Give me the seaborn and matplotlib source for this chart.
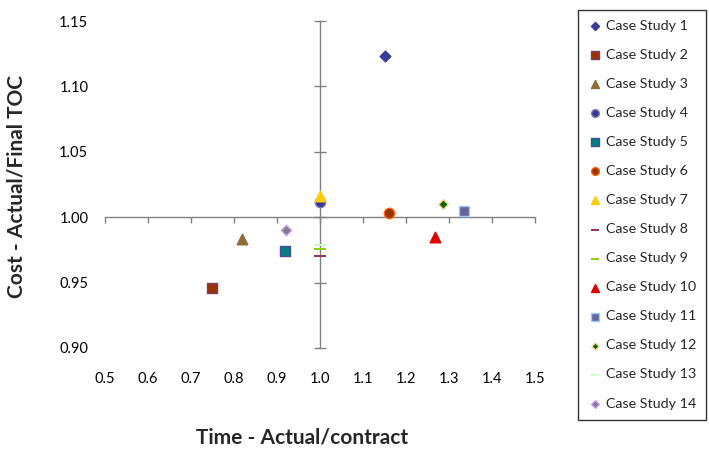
import matplotlib
matplotlib.use("Agg")
import matplotlib.pyplot as plt
import seaborn as sns
import pandas as pd

# ---- data ----
cases = [f"Case Study {i}" for i in range(1, 15)]
time_ratio = [1.151, 0.750, 0.819, 1.000, 0.918, 1.161, 1.000,
              1.000, 1.000, 1.267, 1.334, 1.287, 1.000, 0.920]
cost_ratio = [1.123, 0.946, 0.983, 1.012, 0.974, 1.003, 1.016,
              0.970, 0.976, 0.985, 1.005, 1.010, 0.979, 0.990]
x_ticks = [0.5, 0.6, 0.7, 0.8, 0.9, 1.0, 1.1, 1.2, 1.3, 1.4, 1.5]
y_ticks = [0.90, 0.95, 1.00, 1.05, 1.10, 1.15]
x_label = "Time - Actual/contract"
y_label = "Cost - Actual/Final TOC"

# ---- styles ----
dash = [(-1, -0.13), (1, -0.13), (1, 0.13), (-1, 0.13), (-1, -0.13)]
markers = ["D", "s", "^", "o", "s", "o", "^", dash, dash, "^", "s", "D", dash, "D"]
faces = ["#3B3B98", "#993300", "#8C6D36", "#363696", "#008080", "#993300", "#FFCC00",
         "#993366", "#99CC00", "#E00000", "#666699", "#006600", "#CCFFCC", "#808080"]
edges = ["#3B3B98", "#7F3A6A", "#8C6D36", "#7F7FA8", "#4B4B8F", "#FF6600", "#FFCC00",
         "#993366", "#99CC00", "#E00000", "#99CCFF", "#FFCC99", "#CCFFCC", "#CC99FF"]
sizes = [30, 52, 58, 56, 52, 56, 58, 64, 64, 58, 52, 24, 64, 28]

df = pd.DataFrame({"case": cases, "time": time_ratio, "cost": cost_ratio})

sns.set_style("white")
plt.rcParams["font.family"] = ["Lato", "DejaVu Sans"]

fig = plt.figure(figsize=(7.09, 4.54), dpi=100)
ax = fig.add_axes([0.148, 0.2335, 0.6065, 0.7202])

for i, row in df.iterrows():
    lw = 0 if markers[i] is dash else 1.0
    sns.scatterplot(data=df.iloc[[i]], x="time", y="cost", ax=ax, marker=markers[i],
                    color=faces[i], edgecolor=edges[i], s=sizes[i], linewidth=lw,
                    label=row["case"], zorder=3)

ax.set_xlim(0.5, 1.5)
ax.set_ylim(0.90, 1.15)
ax.set_xticks(x_ticks)
ax.set_yticks(y_ticks)

gray = "#808080"
for side in ["top", "right"]:
    ax.spines[side].set_visible(False)
ax.spines["left"].set_position(("data", 1.0))
ax.spines["bottom"].set_position(("data", 1.0))
for side in ["left", "bottom"]:
    ax.spines[side].set_color(gray)
    ax.spines[side].set_linewidth(1.0)
ax.tick_params(axis="y", direction="inout", length=8, width=1.0, color=gray,
               labelleft=False, left=True)
ax.tick_params(axis="x", direction="out", length=4, width=1.0, color=gray,
               labelbottom=False, bottom=True)
ax.set_xlabel("")
ax.set_ylabel("")

# tick labels at the low edges (Excel style)
secx = ax.secondary_xaxis("bottom")
secx.set_xticks(x_ticks)
secx.set_xticklabels([f"{v:.1f}" for v in x_ticks])
secx.tick_params(length=0, pad=17, labelsize=10.5, labelcolor="black")
for s in secx.spines.values():
    s.set_visible(False)
secy = ax.secondary_yaxis("left")
secy.set_yticks(y_ticks)
secy.set_yticklabels([f"{v:.2f}" for v in y_ticks])
secy.tick_params(length=0, pad=12, labelsize=10.5, labelcolor="black")
for s in secy.spines.values():
    s.set_visible(False)

fig.text(302 / 709, 1 - 437 / 454, x_label, ha="center", va="center",
         fontsize=15, fontweight="bold")
fig.text(17 / 709, 1 - 186 / 454, y_label, ha="center", va="center",
         rotation=90, fontsize=15, fontweight="bold")

leg = ax.legend(loc="upper left", bbox_to_anchor=(578 / 709, 1 - 10 / 454),
                bbox_transform=fig.transFigure, frameon=True, fancybox=False,
                edgecolor="black", fontsize=10.3, labelspacing=1.19,
                handletextpad=0.3, borderaxespad=0, borderpad=0.7,
                handlelength=0.95, markerscale=0.75)
leg.get_frame().set_linewidth(1.0)

fig.savefig("out.png", dpi=100)
